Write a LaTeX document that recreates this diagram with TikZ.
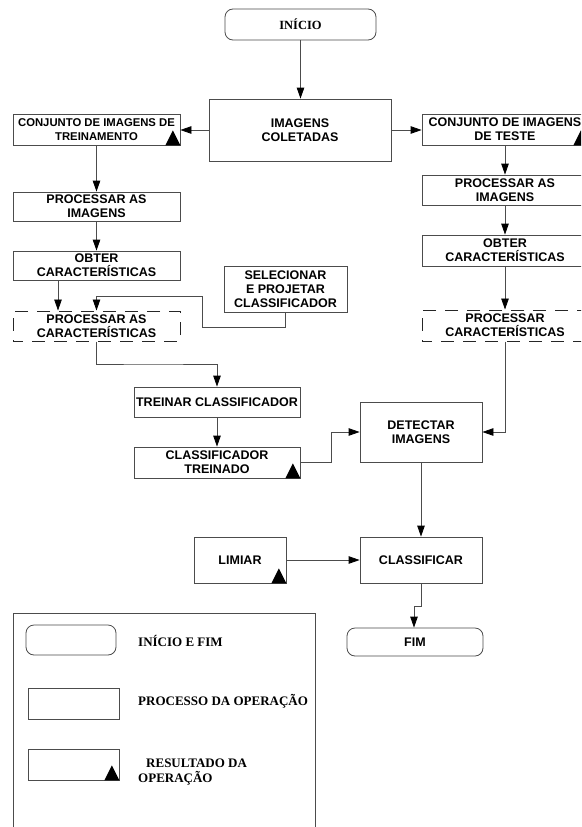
\documentclass[tikz,border=0pt]{standalone}
\usepackage{fontspec}
\setmainfont{Liberation Serif}
\newfontfamily\sansf{Liberation Sans}
\usetikzlibrary{arrows.meta}
\newcommand\restri[1]{\fill[black] ([xshift=-15pt]#1.south east) -- (#1.south east) -- ([xshift=-7.5pt,yshift=15pt]#1.south east) -- cycle;}
\begin{document}
\begin{tikzpicture}[x=1pt,y=-1pt,
  ln/.style={draw=black!70, line width=0.8pt},
  box/.style={ln, rectangle, inner sep=0pt, align=center,
    font=\sansf\bfseries\fontsize{12.5}{14}\selectfont},
  small/.style={font=\sansf\bfseries\fontsize{11.3}{13.5}\selectfont},
  term/.style={box, rounded corners=8pt},
  dbox/.style={box, draw=black!85, line width=1pt, dash pattern=on 13pt off 9pt, dash phase=3pt},
  arr/.style={ln, -{Triangle[length=11pt,width=7.5pt,color=black]}},
  legtxt/.style={anchor=west, inner sep=0pt, align=left,
    font=\bfseries\fontsize{13}{15}\selectfont}]
\useasboundingbox (0,0) rectangle (581,827);
\fill[white] (0,0) rectangle (581,827);
\clip (0,0) rectangle (581,827);

% nodes
\node[term, minimum width=151pt, minimum height=31pt,
  font=\bfseries\fontsize{12.5}{14}\selectfont] (inicio) at (300.5,24.5) {INÍCIO};
\node[box, minimum width=182pt, minimum height=62pt] (coletadas) at (300,130) {IMAGENS\\COLETADAS};
\node[box, small, minimum width=167pt, minimum height=31pt] (cjtrein) at (96.5,129.5) {CONJUNTO DE IMAGENS DE\\TREINAMENTO};
\node[box, minimum width=167pt, minimum height=29pt] (procimgL) at (96.5,206.5) {PROCESSAR AS\\IMAGENS};
\node[box, minimum width=167pt, minimum height=29pt] (obterL) at (96.5,265.5) {OBTER\\CARACTERÍSTICAS};
\node[dbox, minimum width=167pt, minimum height=30pt] (dashL) at (96.5,326) {PROCESSAR AS\\CARACTERÍSTICAS};
\node[box, minimum width=123pt, minimum height=46pt] (selec) at (285.5,289) {SELECIONAR\\E PROJETAR\\CLASSIFICADOR};
\node[box, minimum width=166pt, minimum height=30pt] (treinar) at (217,402) {TREINAR CLASSIFICADOR};
\node[box, minimum width=166pt, minimum height=31pt] (ctrein) at (217,462.5) {CLASSIFICADOR\\TREINADO};
\node[box, minimum width=166pt, minimum height=31pt] (cjteste) at (505,129.5) {CONJUNTO DE IMAGENS\\DE TESTE};
\node[box, minimum width=166pt, minimum height=30pt] (procimgR) at (505,190) {PROCESSAR AS\\IMAGENS};
\node[box, minimum width=166pt, minimum height=31pt] (obterR) at (505,250.5) {OBTER\\CARACTERÍSTICAS};
\node[dbox, minimum width=166pt, minimum height=31pt] (dashR) at (505,325.5) {PROCESSAR\\CARACTERÍSTICAS};
\node[box, minimum width=122pt, minimum height=60pt] (detectar) at (421,432) {DETECTAR\\IMAGENS};
\node[box, minimum width=122pt, minimum height=46pt] (classificar) at (421,560) {CLASSIFICAR};
\node[box, minimum width=92pt, minimum height=46pt] (limiar) at (240,560) {LIMIAR};
\node[term, minimum width=136pt, minimum height=28pt] (fim) at (415,642) {FIM};

\restri{cjtrein}
\restri{ctrein}
\restri{cjteste}
\restri{limiar}

% helper coordinates
\coordinate (xa) at (58,0);
\coordinate (s1) at (202,327);
\coordinate (s2) at (96.5,296);
\coordinate (c1) at (150,364);
\coordinate (c2) at (331,0);
\coordinate (c3) at (414,606);

% connectors
\draw[arr] (inicio.south) -- (inicio.south |- coletadas.north);
\draw[arr] (coletadas.west) -- (coletadas.west -| cjtrein.east);
\draw[arr] (coletadas.east) -- (coletadas.east -| cjteste.west);
\draw[arr] (cjtrein.south) -- (procimgL.north);
\draw[arr] (procimgL.south) -- (obterL.north);
\draw[arr] (xa |- obterL.south) -- (xa |- dashL.north);
\draw[arr] (selec.south) |- (s1) |- (s2) -- (s2 |- dashL.north);
\draw[arr] (dashL.south) |- (c1) -| (treinar.north);
\draw[arr] (treinar.south) -- (ctrein.north);
\draw[arr] (ctrein.east) -- (c2 |- ctrein.east) |- (detectar.west);
\draw[arr] (procimgR.north |- cjteste.south) -- (procimgR.north);
\draw[arr] (procimgR.south) -- (obterR.north);
\draw[arr] (obterR.south) -- (dashR.north);
\draw[arr] (dashR.south) |- (detectar.east);
\draw[arr] (detectar.south) -- (classificar.north);
\draw[arr] (limiar.east) -- (classificar.west);
\draw[arr] (classificar.south) |- (c3) -- (c3 |- fim.north);

% legend
\draw[ln] (13,840) -- (13,613) -- (315,613) -- (315,840);
\node[ln, rounded corners=8pt, minimum width=90pt, minimum height=30pt] (lg1) at (71,640) {};
\node[ln, minimum width=91pt, minimum height=31pt] (lg2) at (73.5,703.5) {};
\node[ln, minimum width=91pt, minimum height=31pt] (lg3) at (73.5,764.5) {};
\restri{lg3}
\node[legtxt] (t1) at (138,641) {INÍCIO E FIM};
\node[legtxt] (t2) at (138,701) {PROCESSO DA OPERAÇÃO};
\node[legtxt] (t3) at (146,763) {RESULTADO DA};
\node[legtxt] (t4) at (138,778) {OPERAÇÃO};
\end{tikzpicture}
\end{document}
